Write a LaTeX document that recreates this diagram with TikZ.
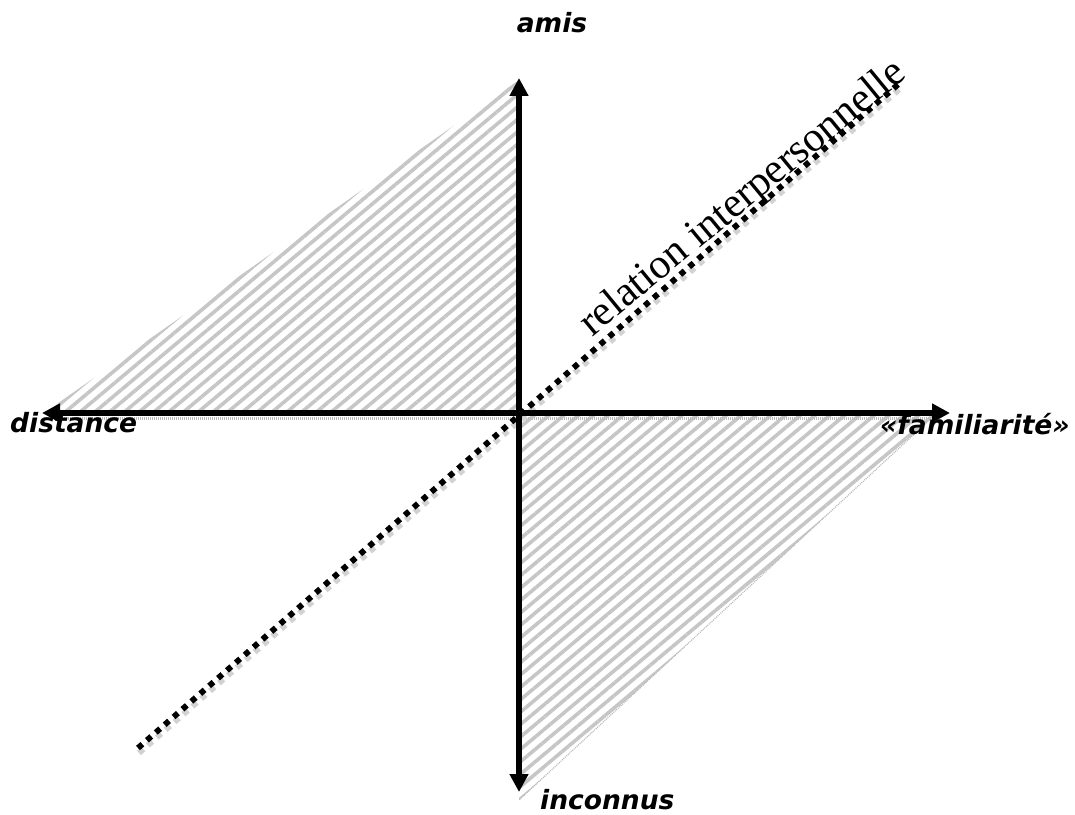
\documentclass[tikz,border=0pt]{standalone}
\usepackage{fontspec}
\newfontfamily\labelfont{DejaVu Sans}
\newfontfamily\relfont{Liberation Serif}
\usepackage{tikz}
\usetikzlibrary{arrows.meta,patterns.meta}

\tikzset{
  axis/.style={line width=6.5pt, {Triangle[length=18pt,width=18pt]}-{Triangle[length=18pt,width=18pt]}},
  hatch/.style={pattern={Lines[angle=40,distance=9.5pt,line width=3.6pt]}, pattern color=gray!45},
  dotline/.style={line width=5.8pt, dash pattern=on 5.8pt off 6pt},
  axislabel/.style={font=\labelfont\bfseries\itshape\fontsize{26.5}{30}\selectfont, inner sep=0pt}
}

\begin{document}
\begin{tikzpicture}[x=1pt,y=1pt]
\useasboundingbox (0,0) rectangle (1075,814);
\coordinate (O) at (519,401);
\coordinate (L) at (42,401);
\coordinate (R) at (950,401);
\coordinate (T) at (519,736);
\coordinate (B) at (519,22);
\coordinate (ul) at (44,401);
\coordinate (ut) at (519,734);
\coordinate (lr) at (937,401);
\coordinate (lb) at (519,14);
\coordinate (d1) at (138,66);
\coordinate (d2) at (902,733);

\fill[hatch] (O) -- (ul) -- (ut) -- cycle;
\fill[hatch] (O) -- (lr) -- (lb) -- cycle;
\draw[gray!55, line width=1.2pt, dash pattern=on 1pt off 1pt] (lr) -- (lb);
\draw[gray!55, line width=2.5pt, dash pattern=on 1pt off 1pt] ([yshift=-5.5pt]ul) -- ([yshift=-5.5pt]lr);

\draw[dotline, gray!35] ([shift={(1pt,-5pt)}]d1) -- ([shift={(1pt,-5pt)}]d2);
\draw[dotline] (d1) -- (d2);

\draw[axis] (L) -- (R);
\draw[axis] (B) -- (T);

\node[axislabel, anchor=base] (amis) at (552,781) {amis};
\node[axislabel, anchor=base west] (dist) at (10,381) {distance};
\node[axislabel, anchor=base west] (fam) at (880,379) {«familiarité»};
\node[axislabel, anchor=base west] (inc) at (540,5) {inconnus};
\node[font=\relfont\fontsize{42}{46}\selectfont, inner sep=0pt, anchor=base, rotate=39.5] (rel) at (750,607) {relation interpersonnelle};
\end{tikzpicture}
\end{document}
